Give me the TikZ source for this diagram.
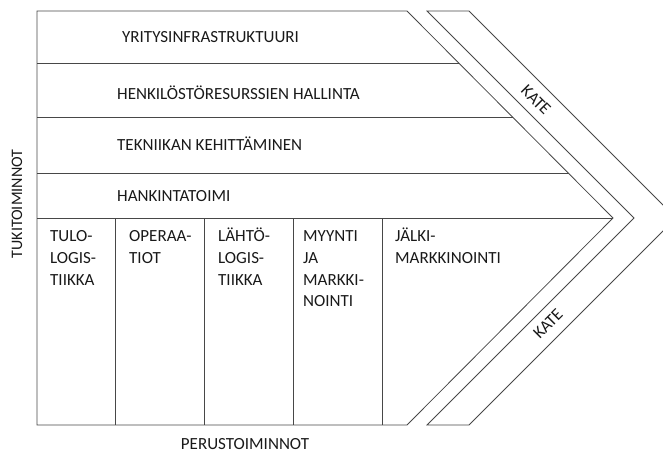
\documentclass[tikz,border=0pt]{standalone}
\usepackage{fontspec}
\setmainfont{Carlito}
\begin{document}
\begin{tikzpicture}[x=1pt,y=-1pt,
  frame/.style={draw=black!72,line width=0.8pt,line join=miter},
  label/.style={inner sep=0pt,font=\fontsize{17}{21.7}\selectfont,text=black!90},
  rowlabel/.style={label,anchor=base west},
  collabel/.style={label,anchor=north west,align=left},
  katelabel/.style={label,anchor=center}]
\useasboundingbox (0,0) rectangle (663,453);
\clip (0,0) rectangle (663,453);

% outline of the value chain arrow
\coordinate (tl) at (37,11);
\coordinate (tr) at (407,11);
\coordinate (tip) at (613,218);
\coordinate (br) at (407,425);
\coordinate (bl) at (37,425);
\draw[frame] (tl) -- (tr) -- (tip) -- (br) -- (bl) -- cycle;

% rows of the support activities
\coordinate (r1l) at (37,63);  \coordinate (r1r) at (459,63);
\coordinate (r2l) at (37,117); \coordinate (r2r) at (513,117);
\coordinate (r3l) at (37,173); \coordinate (r3r) at (569,173);
\coordinate (r4l) at (37,218);
\draw[frame] (r1l) -- (r1r);
\draw[frame] (r2l) -- (r2r);
\draw[frame] (r3l) -- (r3r);
\draw[frame] (r4l) -- (tip);

% columns of the primary activities
\foreach \x/\n in {115/a,204/b,293/c,382/d}{
  \coordinate (c\n t) at (\x,218);
  \coordinate (c\n b) at (\x,425);
  \draw[frame] (c\n t) -- (c\n b);
}

% margin band
\coordinate (k1) at (427,11);
\coordinate (k2) at (469,11);
\coordinate (k3) at (676,218);
\coordinate (k4) at (469,425);
\coordinate (k5) at (427,425);
\coordinate (k6) at (634,218);
\draw[frame] (k1) -- (k2) -- (k3) -- (k4) -- (k5) -- (k6) -- cycle;

% texts of the support activities
\node[rowlabel] (infra) at (122,42.5) {YRITYSINFRASTRUKTUURI};
\node[rowlabel] (hr) at (117,99) {HENKILÖSTÖRESURSSIEN HALLINTA};
\node[rowlabel] (tech) at (117,150) {TEKNIIKAN KEHITTÄMINEN};
\node[rowlabel] (proc) at (117,201.5) {HANKINTATOIMI};

% texts of the primary activities
\node[collabel] (inlog) at (50,226.5) {\strut TULO-\\LOGIS-\\TIIKKA};
\node[collabel] (ops) at (129,226.5) {\strut OPERAA-\\TIOT};
\node[collabel] (outlog) at (218,226.5) {\strut LÄHTÖ-\\LOGIS-\\TIIKKA};
\node[collabel] (sales) at (303,226.5) {\strut MYYNTI\\JA\\MARKKI-\\NOINTI};
\node[collabel] (service) at (395,226.5) {\strut JÄLKI-\\MARKKINOINTI};

% axis titles
\node[label,anchor=base] (primary) at (245,449) {PERUSTOIMINNOT};
\node[label,font=\fontsize{16}{20}\selectfont,anchor=center,rotate=90] (support) at (17,204) {TUKITOIMINNOT};

% margin labels
\node[katelabel,rotate=-45] (kate1) at (536,100) {KATE};
\node[katelabel,rotate=45] (kate2) at (548,324) {KATE};
\end{tikzpicture}
\end{document}
